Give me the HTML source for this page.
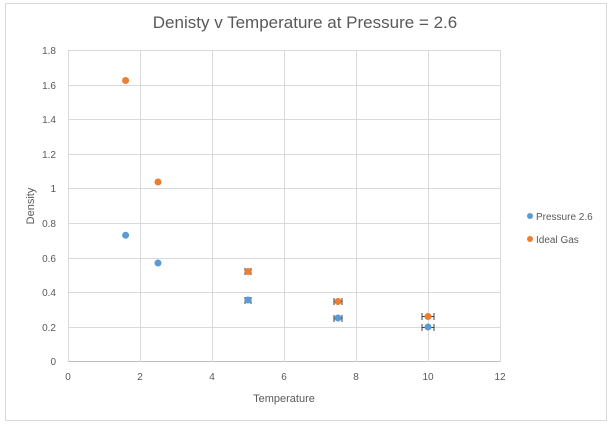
<!DOCTYPE html>
<html><head><meta charset="utf-8"><style>
body{margin:0;background:#fff;width:611px;height:426px;overflow:hidden}
text{font-family:"Liberation Sans",sans-serif;fill:#595959}
</style></head><body>
<svg width="611" height="426" viewBox="0 0 611 426">
<rect x="5.5" y="3.5" width="601" height="417" fill="#fff" stroke="#d9d9d9"/>
<text x="305" y="28" font-size="17" text-anchor="middle">Denisty v Temperature at Pressure = 2.6</text>
<g stroke="#d9d9d9" stroke-width="1">
<line x1="68" y1="50.5" x2="500" y2="50.5"/>
<line x1="68" y1="85.5" x2="500" y2="85.5"/>
<line x1="68" y1="119.5" x2="500" y2="119.5"/>
<line x1="68" y1="154.5" x2="500" y2="154.5"/>
<line x1="68" y1="188.5" x2="500" y2="188.5"/>
<line x1="68" y1="223.5" x2="500" y2="223.5"/>
<line x1="68" y1="258.5" x2="500" y2="258.5"/>
<line x1="68" y1="292.5" x2="500" y2="292.5"/>
<line x1="68" y1="327.5" x2="500" y2="327.5"/>
<line x1="68" y1="361.5" x2="500" y2="361.5" stroke="#bfbfbf"/>
<line x1="68.5" y1="50" x2="68.5" y2="362"/>
<line x1="140.5" y1="50" x2="140.5" y2="362"/>
<line x1="212.5" y1="50" x2="212.5" y2="362"/>
<line x1="284.5" y1="50" x2="284.5" y2="362"/>
<line x1="356.5" y1="50" x2="356.5" y2="362"/>
<line x1="428.5" y1="50" x2="428.5" y2="362"/>
<line x1="500.5" y1="50" x2="500.5" y2="362"/>
</g>
<g font-size="10" text-anchor="end">
<text x="56" y="54">1.8</text><text x="56" y="89">1.6</text><text x="56" y="123">1.4</text>
<text x="56" y="158">1.2</text><text x="56" y="192">1</text><text x="56" y="227">0.8</text>
<text x="56" y="262">0.6</text><text x="56" y="296">0.4</text><text x="56" y="331">0.2</text>
<text x="56" y="365">0</text>
</g>
<g font-size="10" text-anchor="middle">
<text x="68" y="380">0</text><text x="140" y="380">2</text><text x="212" y="380">4</text>
<text x="284" y="380">6</text><text x="356" y="380">8</text><text x="428" y="380">10</text><text x="500" y="380">12</text>
</g>
<text x="284" y="402" font-size="11" text-anchor="middle">Temperature</text>
<text x="34" y="206" font-size="11" text-anchor="middle" transform="rotate(-90 34 206)">Density</text>
<g stroke="#404040" stroke-width="1">
<path d="M422 316.5h12M422 313v7M434 313v7"/>
<path d="M422 327.5h12M422 324v7M434 324v7"/>
<path d="M334 301.5h8M334 298v7M342 298v7"/>
<path d="M334 318.5h8M334 315v7M342 315v7"/>
<path d="M245 300.5h6M245 297v7M251 297v7"/>
<path d="M245 271.5h6M245 268v7M251 268v7"/>
</g>
<g fill="#5b9bd5">
<circle cx="125.6" cy="235.2" r="3.5"/><circle cx="158" cy="263" r="3.5"/>
<circle cx="248" cy="300" r="3.5"/><circle cx="338" cy="318" r="3.5"/><circle cx="428" cy="327" r="3.5"/>
</g>
<g fill="#ed7d31">
<circle cx="125.6" cy="80.5" r="3.5"/><circle cx="158" cy="182" r="3.5"/>
<circle cx="248" cy="271.5" r="3.5"/><circle cx="338" cy="301.5" r="3.5"/><circle cx="428" cy="316.5" r="3.5"/>
</g>
<circle cx="530" cy="216" r="3" fill="#5b9bd5"/>
<text x="536" y="220" font-size="10">Pressure 2.6</text>
<circle cx="530" cy="239" r="3" fill="#ed7d31"/>
<text x="536" y="243" font-size="10">Ideal Gas</text>
</svg>
</body></html>
